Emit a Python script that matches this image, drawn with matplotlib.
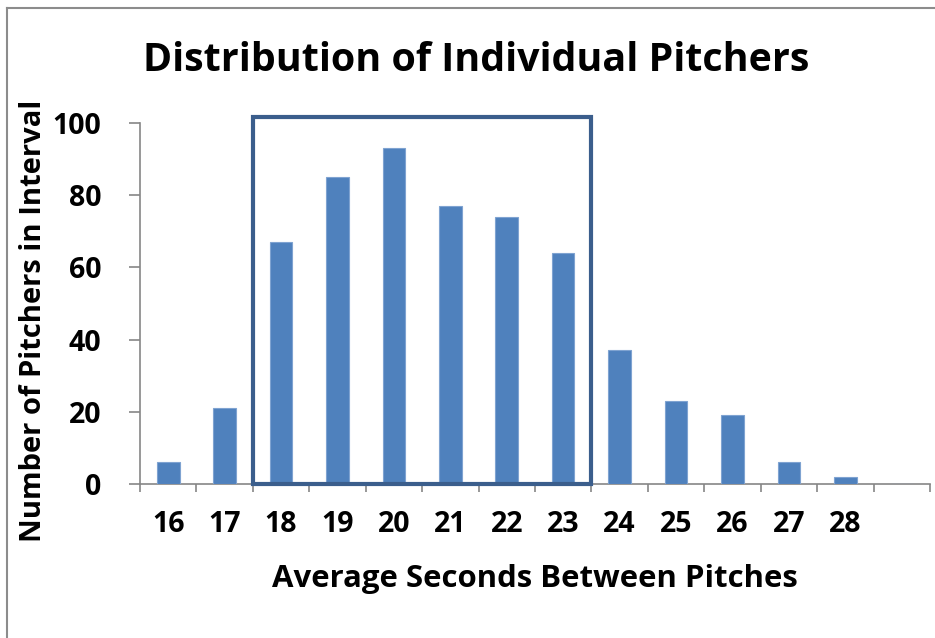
import numpy as np
import matplotlib
matplotlib.use('Agg')
import matplotlib.pyplot as plt
from matplotlib.patches import Rectangle
from matplotlib.lines import Line2D

# data
seconds = ["16", "17", "18", "19", "20", "21", "22", "23", "24", "25", "26", "27", "28", ""]
pitchers = [6, 21, 67, 85, 93, 77, 74, 64, 37, 23, 19, 6, 2, 0]
y_ticks = [0, 20, 40, 60, 80, 100]
box_range = (1.5, 7.5)   # category boundaries: 18 .. 23
box_top = 101.7

BAR = "#4F81BD"
BOX = "#3B5E8C"
AXIS = "#868686"

plt.rcParams["font.family"] = ["Open Sans", "DejaVu Sans"]
plt.rcParams["font.weight"] = "bold"

fig = plt.figure(figsize=(9.35, 6.38), dpi=100)
ax = fig.add_axes([140 / 935, 1 - 484 / 638, 790 / 935, 361 / 638])

x = np.arange(len(seconds))
ax.bar(x, pitchers, 0.4, color=BAR, edgecolor="#7FA3D1", linewidth=0.8, zorder=3)

ax.set_xlim(-0.5, len(seconds) - 0.5)
ax.set_ylim(0, 100)

ax.set_xticks(x)
ax.set_xticklabels(seconds, fontsize=20.5, fontweight="bold")
ax.set_xticks(np.arange(len(seconds) + 1) - 0.5, minor=True)
ax.tick_params(axis="x", which="major", length=0, pad=19)
ax.tick_params(axis="x", which="minor", length=6, width=1.2, color=AXIS, direction="out")

ax.set_yticks(y_ticks)
ax.set_yticklabels([str(v) for v in y_ticks], fontsize=20.5, fontweight="bold")
ax.tick_params(axis="y", length=8, width=1.2, color=AXIS, direction="out", pad=20)

for side in ["top", "right"]:
    ax.spines[side].set_visible(False)
for side in ["left", "bottom"]:
    ax.spines[side].set_color(AXIS)
    ax.spines[side].set_linewidth(1.2)

# highlight box around 18-23
ax.add_patch(Rectangle((box_range[0], 0), box_range[1] - box_range[0], box_top,
                       fill=False, edgecolor=BOX, linewidth=3, zorder=4, clip_on=False))

ax.set_xlabel("Average Seconds Between Pitches", fontsize=22.4, fontweight="bold")
ax.set_ylabel("Number of Pitchers in Interval", fontsize=21, fontweight="bold")
ax.yaxis.set_label_coords(-0.116, 0.452)
ax.xaxis.set_label_coords(0.5, -0.222)

fig.text(0.509, 0.905, "Distribution of Individual Pitchers", fontsize=28.4,
         fontweight="bold", ha="center", va="center")

# outer frame (left and top edges visible)
fig.add_artist(Line2D([7 / 935, 7 / 935], [0, 1 - 8 / 638], color="#8C8C8C", linewidth=1.5))
fig.add_artist(Line2D([7 / 935, 1], [1 - 8 / 638, 1 - 8 / 638], color="#8C8C8C", linewidth=1.5))

fig.savefig("out.png", dpi=100, facecolor="white")
